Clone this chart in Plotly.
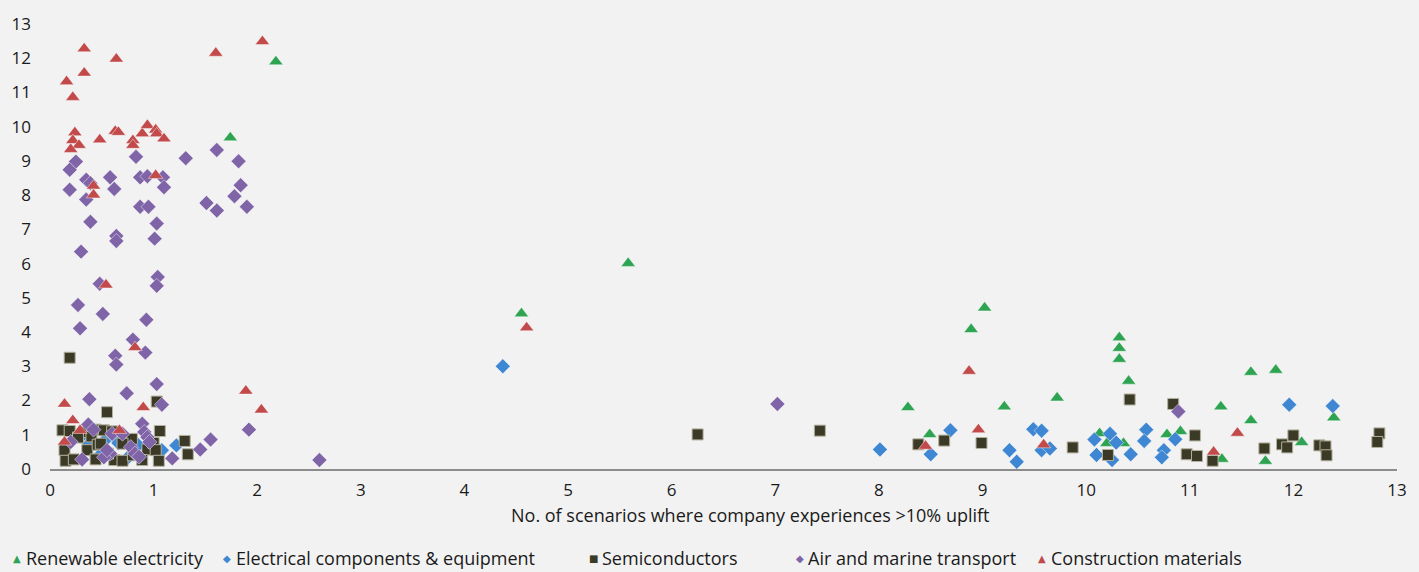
import plotly.graph_objects as go

# Sector scatter: x = scenarios with >10% uplift, y = second metric
x_ticks = list(range(0, 14))
y_ticks = list(range(0, 14))

renew_x = [2.18, 1.74, 5.58, 4.55, 9.02, 8.89, 8.28, 8.49, 9.21, 9.72, 10.13, 10.20, 10.36,
           10.32, 10.32, 10.32, 10.41, 10.78, 10.91, 11.30, 11.31, 11.59, 11.59, 11.73, 11.83,
           12.08, 12.39]
renew_y = [11.90, 9.68, 6.01, 4.54, 4.71, 4.08, 1.80, 1.01, 1.82, 2.08, 1.04, 0.75, 0.75,
           3.84, 3.53, 3.21, 2.57, 1.01, 1.10, 1.82, 0.29, 2.83, 1.42, 0.23, 2.89,
           0.78, 1.50]

elec_x = [0.38, 0.39, 0.30, 0.55, 0.62, 0.66, 0.74, 1.08, 1.22, 0.48, 0.85, 4.37, 8.01, 8.50,
          8.69, 9.26, 9.33, 9.49, 9.57, 9.57, 9.65, 10.08, 10.10, 10.23, 10.29, 10.25, 10.43,
          10.58, 10.56, 10.75, 10.73, 10.86, 11.96, 12.38]
elec_y = [0.74, 1.22, 0.95, 0.90, 0.95, 0.76, 0.30, 0.55, 0.69, 0.40, 0.70, 3.00, 0.57, 0.43,
          1.13, 0.55, 0.21, 1.16, 1.12, 0.55, 0.60, 0.86, 0.41, 1.03, 0.77, 0.26, 0.43,
          1.15, 0.82, 0.55, 0.34, 0.87, 1.88, 1.84]

semi_x = [0.19, 0.55, 1.03, 0.12, 0.19, 0.33, 0.44, 0.52, 0.60, 1.06, 0.79, 0.40, 0.27, 0.14,
          0.36, 0.46, 0.49, 0.70, 0.94, 1.00, 1.02, 0.15, 0.23, 0.44, 0.62, 0.70, 0.89, 1.05,
          1.30, 1.33, 0.56, 0.80, 6.25, 7.43, 8.38, 8.63, 8.99, 9.87, 10.21, 10.42, 10.84,
          11.05, 10.97, 11.07, 11.22, 11.72, 11.89, 11.94, 12.00, 12.25, 12.31, 12.32, 12.83,
          12.81]
semi_y = [3.25, 1.66, 1.97, 1.13, 1.11, 1.08, 1.15, 1.13, 1.10, 1.11, 0.88, 0.95, 0.92, 0.55,
          0.55, 0.71, 0.74, 0.74, 0.57, 0.76, 0.55, 0.24, 0.28, 0.28, 0.26, 0.24, 0.26, 0.24,
          0.82, 0.43, 0.45, 0.40, 1.01, 1.12, 0.72, 0.83, 0.76, 0.63, 0.41, 2.03, 1.90,
          0.98, 0.43, 0.38, 0.24, 0.60, 0.72, 0.63, 0.98, 0.69, 0.66, 0.40, 1.04,
          0.79]

air_x = [0.25, 0.19, 0.19, 0.35, 0.39, 0.35, 0.58, 0.62, 0.83, 0.87, 0.94, 1.09, 1.10, 0.87,
         0.95, 0.39, 1.03, 0.64, 0.64, 1.01, 0.30, 1.04, 1.03, 0.48, 0.27, 0.51, 0.29, 0.93,
         0.80, 0.92, 0.63, 0.64, 1.31, 1.61, 1.82, 1.84, 1.78, 1.90, 1.51, 1.61,
         1.03, 0.74, 0.38, 1.08, 0.89, 0.37, 0.42, 0.91, 0.94, 0.96, 0.20, 0.60, 0.70, 0.78,
         0.82, 0.86, 0.58, 0.52, 0.31, 0.55, 1.18, 1.45, 1.55, 1.92, 2.60, 7.02, 10.89]
air_y = [8.98, 8.74, 8.16, 8.45, 8.35, 7.87, 8.52, 8.18, 9.12, 8.52, 8.55, 8.52, 8.23, 7.66,
         7.66, 7.22, 7.17, 6.81, 6.66, 6.73, 6.35, 5.61, 5.35, 5.41, 4.79, 4.53, 4.11, 4.36,
         3.78, 3.40, 3.31, 3.05, 9.08, 9.32, 8.99, 8.29, 7.97, 7.66, 7.77, 7.55,
         2.48, 2.21, 2.04, 1.88, 1.32, 1.30, 1.15, 1.08, 0.93, 0.79, 0.79, 1.03, 1.03, 0.64,
         0.45, 0.36, 0.45, 0.34, 0.28, 0.55, 0.31, 0.57, 0.86, 1.15, 0.26, 1.90, 1.68]

constr_x = [0.33, 0.64, 0.33, 0.16, 0.22, 1.60, 2.05, 0.24, 0.22, 0.28, 0.20, 0.48, 0.63, 0.66,
            0.80, 0.80, 0.89, 0.94, 1.02, 1.03, 1.10, 1.02, 0.42, 0.42, 0.54, 0.82, 1.89, 2.04,
            0.90, 0.67, 0.14, 0.22, 0.29, 0.14, 4.60, 8.87, 8.96, 8.45, 9.59, 11.46, 11.23]
constr_y = [12.28, 11.98, 11.57, 11.32, 10.86, 12.15, 12.49, 9.83, 9.60, 9.46, 9.34, 9.62, 9.87,
            9.84, 9.60, 9.46, 9.80, 10.04, 9.91, 9.80, 9.65, 8.58, 8.27, 8.01, 5.38, 3.55, 2.28,
            1.73, 1.80, 1.13, 1.90, 1.42, 1.13, 0.79, 4.13, 2.86, 1.15, 0.67, 0.71, 1.05, 0.50]

series_names = ["Renewable electricity", "Electrical components & equipment",
                "Semiconductors", "Air and marine transport", "Construction materials"]
x_title = "No. of scenarios where company experiences >10% uplift"
colors = ["#2ea452", "#3f87d2", "#3b3a27", "#8064a8", "#c24a4a"]
symbols = ["triangle-up", "diamond", "square", "diamond", "triangle-up"]
sizes = [12.5, 11.5, 11, 11.5, 12.5]
edge_colors = ["rgba(255,255,255,0.45)", "rgba(255,255,255,0.45)", "#b3b19e",
               "rgba(255,255,255,0.45)", "rgba(255,255,255,0.45)"]
legend_glyphs = ["▲", "◆", "■", "◆", "▲"]

xs = [renew_x, elec_x, semi_x, air_x, constr_x]
ys = [renew_y, elec_y, semi_y, air_y, constr_y]

FONT = "Open Sans"
TEXT_COLOR = "#1a1a1a"
LABEL_SIZE = 18
TICK_SIZE = 17

fig = go.Figure()
for name, x, y, c, s, sz, ec in zip(series_names, xs, ys, colors, symbols, sizes, edge_colors):
    fig.add_trace(go.Scatter(
        x=x, y=y, mode="markers", name=name, showlegend=False,
        marker=dict(symbol=s, size=sz, color=c, line=dict(color=ec, width=1)),
    ))

# Plot-area box in pixels, used to place the title and the bottom legend row
plot_left, plot_right, plot_top, plot_bottom = 49, 1405, 19, 469
pw = plot_right - plot_left
ph = plot_bottom - plot_top


def px_x(v):
    return (v - plot_left) / pw


def px_y(v):
    return (plot_bottom - v) / ph


annotations = [dict(
    text=x_title, x=px_x(754), y=px_y(516), xref="paper", yref="paper",
    xanchor="center", yanchor="middle", showarrow=False,
    font=dict(family=FONT, size=LABEL_SIZE, color=TEXT_COLOR))]

glyph_px = [16, 227, 596, 804, 1048]
text_px = [23, 234, 603, 810, 1055]
legend_py = 559
for g, c, gx, tx, name in zip(legend_glyphs, colors, glyph_px, text_px, series_names):
    annotations.append(dict(
        text=g, x=px_x(gx), y=px_y(legend_py), xref="paper", yref="paper",
        xanchor="center", yanchor="middle", showarrow=False,
        font=dict(family="DejaVu Sans", size=10, color=c)))
    annotations.append(dict(
        text=name, x=px_x(tx), y=px_y(legend_py), xref="paper", yref="paper",
        xanchor="left", yanchor="middle", showarrow=False,
        font=dict(family=FONT, size=LABEL_SIZE, color=TEXT_COLOR)))

fig.update_layout(
    width=1419, height=572,
    margin=dict(l=plot_left, r=1419 - plot_right, t=plot_top, b=572 - plot_bottom),
    paper_bgcolor="#f2f2f2", plot_bgcolor="#f2f2f2",
    font=dict(family=FONT, size=TICK_SIZE, color=TEXT_COLOR),
    annotations=annotations,
    xaxis=dict(
        range=[0, 13], tickvals=x_ticks, ticktext=[str(v) for v in x_ticks],
        showgrid=False, zeroline=False, showline=True, linecolor="#8c8c8c", linewidth=2,
        ticks="", ticklabelstandoff=5,
        tickfont=dict(family=FONT, size=TICK_SIZE, color=TEXT_COLOR),
    ),
    yaxis=dict(
        range=[0, 13], tickvals=y_ticks, ticktext=[str(v) for v in y_ticks],
        showgrid=False, zeroline=False, showline=False, ticks="", ticklabelstandoff=18,
        tickfont=dict(family=FONT, size=TICK_SIZE, color=TEXT_COLOR),
    ),
)

fig.write_html("out.html")
